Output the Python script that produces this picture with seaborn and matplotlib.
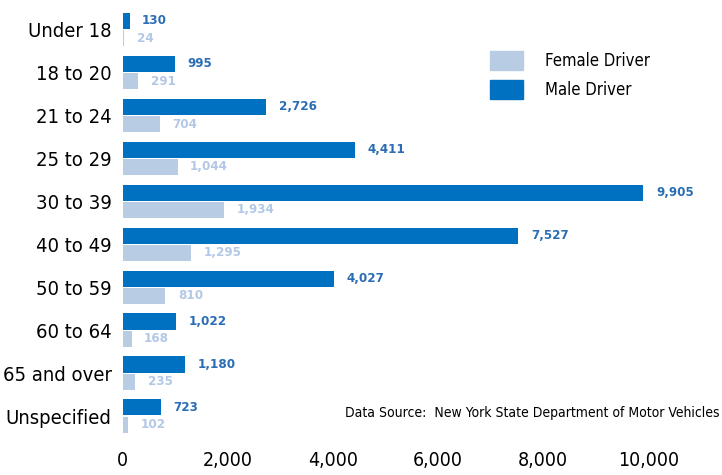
import pandas as pd
import matplotlib.pyplot as plt
import seaborn as sns

ages = ["Under 18", "18 to 20", "21 to 24", "25 to 29", "30 to 39",
        "40 to 49", "50 to 59", "60 to 64", "65 and over", "Unspecified"]
male = [130, 995, 2726, 4411, 9905, 7527, 4027, 1022, 1180, 723]
female = [24, 291, 704, 1044, 1934, 1295, 810, 168, 235, 102]

male_color = "#0070c0"
female_color = "#b8cce4"
male_text = "#2a6db5"
female_text = "#b3c8e6"

df = pd.DataFrame({
    "age": ages * 2,
    "count": male + female,
    "driver": ["Male Driver"] * len(ages) + ["Female Driver"] * len(ages),
})

sns.set_style("white")
plt.rcParams["font.family"] = ["DejaVu Sans"]
plt.rcParams["font.stretch"] = "condensed"
plt.rcParams["text.color"] = "black"
plt.rcParams["xtick.color"] = "black"
plt.rcParams["ytick.color"] = "black"

fig = plt.figure(figsize=(7.22, 4.75), dpi=100)
ax = fig.add_axes([0.170, 0.079, 0.83, 0.904])

sns.barplot(data=df, y="age", x="count", hue="driver", orient="h",
            order=ages, hue_order=["Male Driver", "Female Driver"],
            palette={"Male Driver": male_color, "Female Driver": female_color},
            width=0.8, gap=0.06, errorbar=None, saturation=1, linewidth=0,
            ax=ax, legend=False)

for cont, col in zip(ax.containers, [male_text, female_text]):
    ax.bar_label(cont, labels=[f"{int(b.get_width()):,}" for b in cont],
                 padding=9, color=col, fontsize=9.5, fontweight="bold")

ax.set_xlim(0, 11400)
ax.set_ylim(9.5, -0.5)
ax.set_xticks([0, 2000, 4000, 6000, 8000, 10000])
ax.set_xticklabels(["0", "2,000", "4,000", "6,000", "8,000", "10,000"])
ax.tick_params(axis="x", labelsize=14, pad=10, length=0)
ax.tick_params(axis="y", labelsize=14.5, pad=8, length=0)
ax.set_xlabel("")
ax.set_ylabel("")
sns.despine(ax=ax, left=True, bottom=True)

# legend, female first
h_f = plt.Rectangle((0, 0), 1, 1, color=female_color)
h_m = plt.Rectangle((0, 0), 1, 1, color=male_color)
fig.legend([h_f, h_m], ["Female Driver", "Male Driver"],
           loc="upper left", bbox_to_anchor=(0.658, 0.924), frameon=False,
           fontsize=12, handlelength=2.0, handleheight=1.35,
           handletextpad=1.3, labelspacing=0.6)

fig.text(0.997, 0.13, "Data Source:  New York State Department of Motor Vehicles",
         ha="right", va="center", fontsize=10)

fig.savefig("out.png", dpi=100)
